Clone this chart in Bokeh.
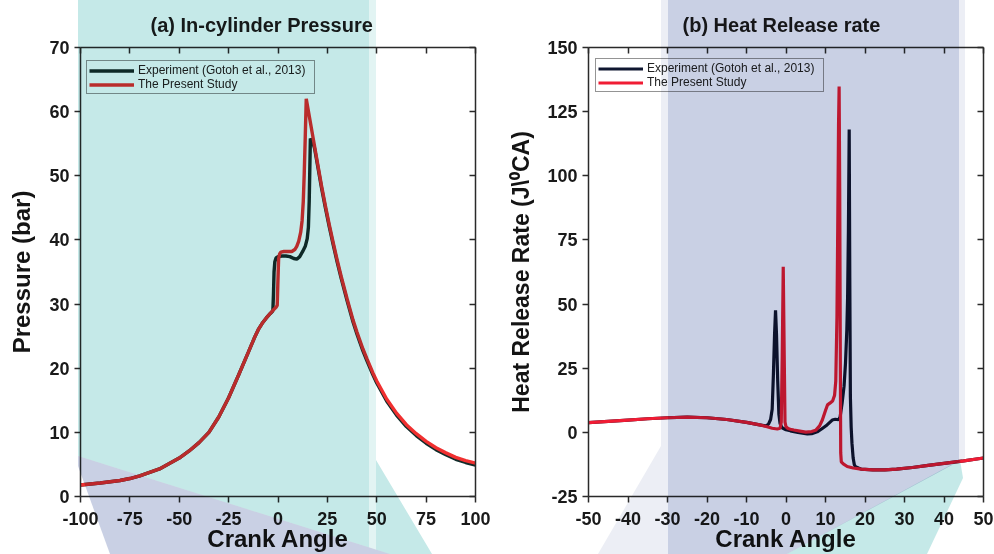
from bokeh.plotting import figure
from bokeh.layouts import row
from bokeh.models import (Legend, LegendItem, LinearAxis, FixedTicker, InlineStyleSheet, Range1d,
                          CustomJSTickFormatter, CustomLabelingPolicy)
from bokeh.embed import file_html
from bokeh.resources import INLINE

# ---------------- data ----------------
# (a) In-cylinder pressure
press_angle_study = [-100, -90, -80, -75, -70, -60, -50, -45, -40, -35,
                     -30, -25, -20, -15, -12, -10, -8, -6, -4, -2,
                     -1, -0.4, -0.1, 0.3, 0.8, 1.5, 3, 5, 7, 8.5,
                     9.5, 10.5, 11.5, 12.2, 12.8, 13.3, 13.8, 14.3, 16, 18,
                     20, 22, 24, 26, 28, 30, 32, 35, 38, 40,
                     43, 45, 48, 50, 55, 60, 65, 70, 75, 80,
                     85, 90, 95, 100]
press_study = [1.8, 2.1, 2.5, 2.8, 3.2, 4.3, 6.0, 7.1, 8.4, 10.0,
               12.4, 15.4, 18.9, 22.5, 24.7, 26.0, 27.0, 27.8, 28.5, 29.2,
               29.5, 29.8, 33.0, 37.0, 37.8, 38.1, 38.2, 38.2, 38.2, 38.5,
               39.0, 39.8, 41.2, 43.0, 46.0, 50.5, 56.0, 62.0, 59.0, 55.5,
               52.0, 48.5, 45.3, 42.3, 39.5, 36.8, 34.3, 30.8, 27.5, 25.6,
               23.0, 21.5, 19.3, 18.0, 15.2, 13.0, 11.2, 9.8, 8.6, 7.6,
               6.8, 6.1, 5.6, 5.2]
press_angle_exp = [-100, -90, -80, -75, -70, -60, -50, -45, -40, -35,
                   -30, -25, -20, -15, -12, -10, -8, -6, -4, -3,
                   -2.6, -2.3, -2.0, -1.6, -1.0, 0, 2, 4, 6, 8,
                   9.5, 11, 12.5, 13.8, 14.8, 15.4, 15.8, 16.1, 16.4, 17.5,
                   18.5, 20, 22, 24, 26, 28, 30, 32, 35, 38,
                   40, 43, 45, 48, 50, 55, 60, 65, 70, 75,
                   80, 85, 90, 95, 100]
press_exp = [1.8, 2.1, 2.5, 2.8, 3.2, 4.3, 6.0, 7.1, 8.4, 10.0,
             12.4, 15.4, 18.9, 22.5, 24.7, 26.0, 27.0, 27.8, 28.5, 28.8,
             29.0, 31.5, 35.0, 36.6, 37.2, 37.4, 37.5, 37.5, 37.4, 37.1,
             37.0, 37.4, 38.2, 39.0, 40.2, 42.0, 46.0, 51.0, 55.8, 55.3,
             54.3, 51.7, 48.2, 45.0, 42.0, 39.2, 36.5, 34.0, 30.5, 27.2,
             25.3, 22.7, 21.2, 19.0, 17.7, 14.9, 12.7, 10.9, 9.5, 8.3,
             7.3, 6.5, 5.8, 5.3, 4.9]

# (b) Heat release rate
hrr_angle_study = [-50, -45, -40, -35, -30, -25, -20, -15, -10, -7,
                   -5, -3.5, -2.2, -1.5, -1.2, -0.95, -0.7, -0.45, -0.25, 0,
                   0.5, 1.1, 2, 3.5, 5, 6.5, 7.5, 8.5, 9.2, 10,
                   10.5, 11.2, 11.8, 12.3, 12.6, 12.9, 13.1, 13.3, 13.45, 13.6,
                   13.75, 13.85, 14.0, 14.5, 15.5, 17, 19, 22, 25, 28,
                   32, 36, 40, 45, 50]
hrr_study = [3.8, 4.3, 4.8, 5.3, 5.7, 5.9, 5.7, 5.0, 3.9, 3.0,
             2.3, 1.6, 1.3, 1.6, 4.0, 30, 64.5, 30, 4.0, 2.2,
             1.5, 1.2, 0.9, 0.5, 0.1, 0.3, 0.8, 2.5, 4.8, 8.5,
             10.7, 11.5, 12.2, 14.5, 20, 45, 80, 120, 134.8, 95,
             30, -8, -11.5, -12.3, -13.3, -13.9, -14.3, -14.6, -14.6, -14.3,
             -13.7, -12.9, -12.1, -11.1, -10.0]
hrr_angle_exp = [-50, -45, -40, -35, -30, -25, -20, -15, -10, -7,
                 -5, -4.4, -3.9, -3.5, -3.2, -2.9, -2.65, -2.4, -2.1, -1.8,
                 -1.5, -1.0, 0, 1.1, 3, 5.4, 6.5, 7.9, 9, 10.4,
                 11.7, 12.5, 13.3, 13.7, 14.2, 14.7, 15.06, 15.4, 15.6, 15.8,
                 16.0, 16.15, 16.3, 16.5, 16.7, 17.0, 17.3, 17.6, 18.5, 19,
                 22, 25, 28, 32, 36, 40, 45, 50]
hrr_exp = [3.8, 4.3, 4.8, 5.3, 5.7, 5.9, 5.7, 5.0, 3.9, 3.0,
           2.5, 3.3, 5.0, 9.0, 22, 38, 47.6, 38, 20, 7,
           3.4, 1.8, 1.0, 0.6, 0.0, -0.6, -0.5, 0.2, 1.3, 2.9,
           4.8, 5.1, 4.9, 6.0, 11.3, 18, 26.9, 40, 52.8, 78.8,
           118, 60, 13.9, 2, -4.2, -10, -12.6, -13.4, -14.0, -14.3,
           -14.6, -14.6, -14.3, -13.7, -12.9, -12.1, -11.1, -10.0]

x_ticks_a = [-100, -75, -50, -25, 0, 25, 50, 75, 100]
y_ticks_a = [0, 10, 20, 30, 40, 50, 60, 70]
x_ticks_b = [-50, -40, -30, -20, -10, 0, 10, 20, 30, 40, 50]
y_ticks_b = [-25, 0, 25, 50, 75, 100, 125, 150]

label_exp = "Experiment (Gotoh et al., 2013)"
label_study = "The Present Study"

FONT = "Liberation Sans"
AX_COLOR = "#2a2a2a"


def overlay_css(poly1, grad1, poly2, col2):
    return f"""
:host {{ position: relative; }}
:host::before, :host::after {{
  content: ""; position: absolute; left: 0; top: 0; width: 497px; height: 554px;
  pointer-events: none; mix-blend-mode: multiply; z-index: 100;
}}
:host::before {{ background: {grad1}; clip-path: polygon({poly1}); }}
:host::after {{ background: {col2}; clip-path: polygon({poly2}); }}
"""


def style_axis(ax, ticks, labels=True, inside=False):
    ax.ticker = FixedTicker(ticks=ticks)
    ax.minor_tick_line_color = None
    ax.axis_line_color = AX_COLOR
    ax.axis_line_width = 1.5
    ax.major_tick_line_color = AX_COLOR
    ax.major_tick_line_width = 1.5
    if inside:
        ax.major_tick_in = 6
        ax.major_tick_out = 0
    else:
        ax.major_tick_in = 0
        ax.major_tick_out = 6
    if labels:
        ax.formatter = CustomJSTickFormatter(code="return tick.toString();")
        ax.major_label_text_font = FONT
        ax.major_label_text_font_style = "bold"
        ax.major_label_text_font_size = "18px"
        ax.major_label_text_color = "#1a1a1a"
        ax.major_label_standoff = 5
        ax.axis_label_text_font = FONT
        ax.axis_label_text_font_style = "bold"
        ax.axis_label_text_font_size = "24px"
        ax.axis_label_text_color = "#141414"
    else:
        ax.major_label_policy = CustomLabelingPolicy(
            code="for (const i of indices) { indices.unset(i) }")
        ax.major_label_text_font_size = "1px"
        ax.major_label_standoff = 0


def make_fig(xr, yr, xt, yt, title, ylabel, ml, mr, toff):
    p = figure(width=497, height=554, x_range=Range1d(*xr), y_range=Range1d(*yr),
               output_backend="svg", toolbar_location=None,
               min_border_left=ml, min_border_right=mr, min_border_top=47, min_border_bottom=58)
    p.background_fill_color = "white"
    p.border_fill_color = "white"
    p.outline_line_color = None
    p.grid.visible = False
    p.title.text = title
    p.title.align = "left"
    p.title.text_font = FONT
    p.title.text_font_style = "bold"
    p.title.text_font_size = "20px"
    p.title.text_color = "#1b1b1b"
    p.title.offset = toff
    p.title.standoff = 15
    style_axis(p.xaxis[0], xt)
    style_axis(p.yaxis[0], yt)
    p.xaxis[0].axis_label = "Crank Angle"
    p.xaxis[0].major_label_standoff = 9
    p.xaxis[0].axis_label_standoff = -3
    p.yaxis[0].axis_label = ylabel
    top = LinearAxis()
    style_axis(top, xt, labels=False, inside=True)
    right = LinearAxis()
    style_axis(right, yt, labels=False, inside=True)
    p.add_layout(top, "above")
    p.add_layout(right, "right")
    return p


def make_legend(p, r_exp, r_study, loc):
    leg = Legend(items=[LegendItem(label=label_exp, renderers=[r_exp]),
                        LegendItem(label=label_study, renderers=[r_study])],
                 location=loc)
    leg.label_text_font = FONT
    leg.label_text_font_size = "12px"
    leg.label_text_color = "#222222"
    leg.border_line_color = "#2a2a2a"
    leg.border_line_width = 1
    leg.background_fill_color = "white"
    leg.background_fill_alpha = 1
    leg.glyph_width = 45
    leg.glyph_height = 13
    leg.label_height = 13
    leg.label_width = 174
    leg.label_standoff = 4
    leg.padding = 2
    leg.spacing = 0
    leg.margin = 0
    p.add_layout(leg, "center")


# ---------------- (a) ----------------
pa = make_fig((-100, 100), (0, 70), x_ticks_a, y_ticks_a, "(a) In-cylinder Pressure",
              "Pressure (bar)", 80, 22, 70)
pa.yaxis[0].axis_label_standoff = 11
ra_exp = pa.line(press_angle_exp, press_exp, line_color="#112c2a", line_width=3.4)
ra_st = pa.line(press_angle_study, press_study, line_color="#f03030", line_width=3.4)
make_legend(pa, ra_exp, ra_st, (6, 402))

teal = "#c5e9e8"
lav = "#c9d0e4"
grad_a = (f"linear-gradient(to right, {teal} 0px, {teal} 369px, #e2f4f3 369px, "
          f"#e2f4f3 376px, {teal} 376px)")
pa.stylesheets = [InlineStyleSheet(css=overlay_css(
    "78px 0px, 376px 0px, 376px 460px, 432px 554px, 390px 554px, 78px 456px", grad_a,
    "78px 456px, 390px 554px, 110px 554px, 78px 466px", lav))]

# ---------------- (b) ----------------
pb = make_fig((-50, 50), (-25, 150), x_ticks_b, y_ticks_b, "(b) Heat Release rate",
              "Heat Release Rate (J\\\u2070CA)", 91, 11, 94)
pb.yaxis[0].axis_label_standoff = 10
pb.yaxis[0].axis_label_text_font_size = "23px"
rb_exp = pb.line(hrr_angle_exp, hrr_exp, line_color="#0f1630", line_width=3.2)
rb_st = pb.line(hrr_angle_study, hrr_study, line_color="#f01c34", line_width=3.2)
make_legend(pb, rb_exp, rb_st, (7, 404))

grad_b = (f"linear-gradient(to right, #eceef5 0px, #eceef5 171px, {lav} 171px, "
          f"{lav} 462px, #eceef5 462px, #eceef5 468px)")
pb.stylesheets = [InlineStyleSheet(css=overlay_css(
    "164px 0px, 468px 0px, 468px 458px, 290px 554px, 101px 554px, 164px 446px", grad_b,
    "463px 460px, 290px 554px, 430px 554px, 466px 478px", teal))]

layout = row(pa, pb, spacing=0)
open("out.html", "w").write(file_html(layout, INLINE))
